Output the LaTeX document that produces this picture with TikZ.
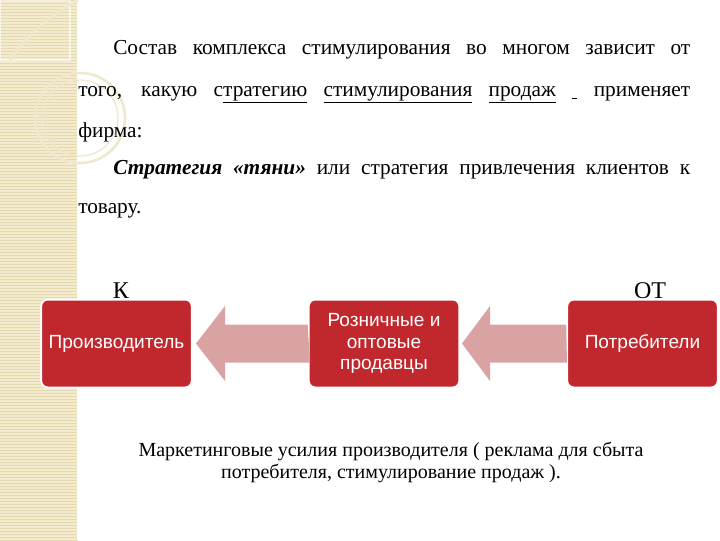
\documentclass[tikz,border=0pt]{standalone}
\usepackage{fontspec}
\setmainfont{Liberation Serif}
\newfontfamily\boxfont{Liberation Sans}
\definecolor{boxred}{HTML}{C0282D}
\definecolor{arrpink}{HTML}{D9A3A3}
\definecolor{strip}{HTML}{F3EBCF}
\definecolor{stripline}{HTML}{E6D9AE}
\begin{document}
\begin{tikzpicture}[x=0.75pt,y=-0.75pt,
  rbox/.style={draw=white,line width=1.5pt,fill=boxred,rounded corners=5pt,text=white,font=\boxfont\fontsize{14.3}{16}\selectfont,align=center,minimum width=113pt,minimum height=66pt,inner sep=1pt},
  barrow/.style={fill=arrpink,draw=none},
  line/.style={anchor=base west,inner sep=0pt,font=\fontsize{16}{18}\selectfont}]
\useasboundingbox (0,0) rectangle (720,540);
\fill[white] (0,0) rectangle (720,540);
\fill[strip] (0,0) rectangle (78,540);
\foreach \yy in {0,3,...,540} \draw[stripline,line width=0.4pt] (0,\yy) -- (78,\yy);
\draw[white,line width=1.5pt] (78,0) -- (78,540);
\draw[stripline!60!white,line width=2pt] (80,118) circle (45);
\draw[stripline!60!white,line width=1pt] (80,118) circle (38);
\draw[white,line width=1pt,opacity=0.6] (0,0) rectangle (70,60);
\draw[stripline!60!white,line width=2pt] (10,60) .. controls (30,30) and (60,10) .. (78,0);
% text
\node[line] (l1) at (113,54) {\makebox[432.75pt][s]{Состав комплекса стимулирования во многом зависит от}};
\node[line] (l2) at (78,96) {\makebox[459pt][s]{того, какую с\underline{тратегию} \underline{стимулирования} \underline{продаж} \underline{\ }\ применяет}};
\node[line] (l3) at (78,137) {фирма:};
\node[line] (l4) at (113,174) {\makebox[432.75pt][s]{\textbf{\textit{Стратегия «тяни»}} или стратегия привлечения клиентов к}};
\node[line] (l5) at (78,213) {товару.};
\node[anchor=base,inner sep=0pt,font=\fontsize{18}{20}\selectfont] (k) at (121,298) {К};
\node[anchor=base,inner sep=0pt,font=\fontsize{18}{20}\selectfont] (ot) at (650,298) {ОТ};
% boxes
\node[rbox] (p) at (116.5,343.5) {Производитель};
\node[rbox] (r) at (384,343.5) {Розничные и\\оптовые\\продавцы};
\node[rbox] (c) at (642.5,343.5) {Потребители};
% arrows
\fill[barrow] (r.west) ++(0,-19) -- (225,324.5) -- (225,306) -- (196,343.5) -- (225,381) -- (225,362.5) -- ++(85,0) -- cycle;
\fill[barrow] (c.west) ++(0,-19) -- (490,324.5) -- (490,306) -- (462,343.5) -- (490,381) -- (490,362.5) -- (567,362.5) -- cycle;
\node[align=center,inner sep=0pt,font=\fontsize{15}{16.5}\selectfont] (m) at (391,462) {Маркетинговые усилия производителя ( реклама для сбыта\\потребителя, стимулирование продаж ).};
\end{tikzpicture}
\end{document}
